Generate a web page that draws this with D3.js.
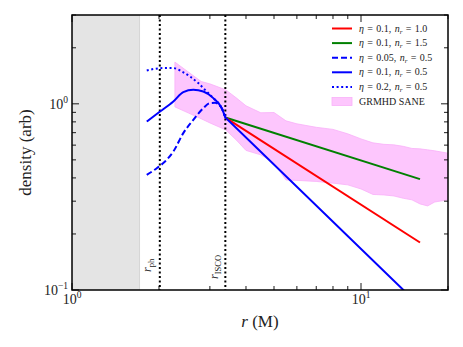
<!DOCTYPE html>
<html>
<head>
<script src="https://cdn.jsdelivr.net/npm/d3@7"></script>
<style>
body { margin: 0; padding: 0; background: #fff; }
text { font-family: "Liberation Serif", "DejaVu Serif", serif; fill: #222; }
</style>
</head>
<body>
<svg></svg>
<script>
// model curves (r in M, density arb)
var rRed = [3.393, 16], rhoRed = [0.844, 0.18];
var rGreen = [3.393, 16], rhoGreen = [0.844, 0.394];
var rBlue = [1.814, 2.016, 2.242, 2.427, 2.629, 2.847, 3.083, 3.296, 3.393, 16];
var rhoBlue = [0.803, 0.909, 1.029, 1.156, 1.189, 1.164, 1.073, 0.948, 0.844, 0.082];
var rDash = [1.814, 1.964, 2.098, 2.242, 2.427, 2.629, 2.847, 3.003, 3.125, 3.296, 3.393];
var rhoDash = [0.415, 0.451, 0.49, 0.554, 0.696, 0.82, 0.948, 1.009, 1.012, 0.948, 0.844];
var rDot = [1.814, 1.911, 2.07, 2.242, 2.397, 2.561, 2.735, 2.925, 3.083, 3.296, 3.393];
var rhoDot = [1.51, 1.537, 1.556, 1.556, 1.492, 1.402, 1.292, 1.164, 1.073, 0.948, 0.844];

// GRMHD SANE band
var rBand = [2.27, 2.5, 2.8, 3.0, 3.4, 3.7, 4.0, 4.5, 5, 5.5, 6, 7, 8, 9, 10, 11, 12, 13, 14, 15, 16, 17, 18, 20];
var bandLo = [0.963, 0.90, 0.831, 0.79, 0.725, 0.64, 0.562, 0.532, 0.482, 0.39, 0.388, 0.383, 0.375, 0.367, 0.349, 0.326, 0.324, 0.32, 0.311, 0.305, 0.29, 0.283, 0.297, 0.305];
var bandHi = [1.675, 1.50, 1.318, 1.28, 1.19, 1.077, 0.976, 0.895, 0.898, 0.81, 0.781, 0.748, 0.729, 0.69, 0.648, 0.617, 0.606, 0.602, 0.591, 0.576, 0.573, 0.566, 0.559, 0.543];

var rHorizon = 1.714, rPh = 2.013, rIsco = 3.393;

var xMajor = [1, 10], yMajor = [0.1, 1];
var xMinor = [2, 3, 4, 5, 6, 7, 8, 9, 20], yMinor = [0.2, 0.3, 0.4, 0.5, 0.6, 0.7, 0.8, 0.9, 2, 3];

var legendItems = [
  { eta: '0.1', n: '1.0', color: '#ff0000', dash: null },
  { eta: '0.1', n: '1.5', color: '#008000', dash: null },
  { eta: '0.05', n: '0.5', color: '#0000ff', dash: '6,3' },
  { eta: '0.1', n: '0.5', color: '#0000ff', dash: null },
  { eta: '0.2', n: '0.5', color: '#0000ff', dash: '2,2.6' }
];

var width = 463, height = 347;
var m = { left: 72, right: 15, top: 15, bottom: 57 };
var svg = d3.select('svg').attr('width', width).attr('height', height);

var x = d3.scaleLog().domain([1, 20]).range([m.left, width - m.right]);
var y = d3.scaleLog().domain([0.1, 3]).range([height - m.bottom, m.top]);
var x0 = x.range()[0], x1 = x.range()[1], y0 = y.range()[0], y1 = y.range()[1];

svg.append('clipPath').attr('id', 'clip').append('rect')
  .attr('x', x0).attr('y', y1).attr('width', x1 - x0).attr('height', y0 - y1);

var plot = svg.append('g').attr('clip-path', 'url(#clip)');

// inside horizon
plot.append('rect')
  .attr('x', x0).attr('y', y1)
  .attr('width', x(rHorizon) - x0).attr('height', y0 - y1)
  .attr('fill', '#e4e4e4').attr('stroke', '#cfcfcf').attr('stroke-width', 0.8);

var band = rBand.map(function(r, i) { return { r: r, lo: bandLo[i], hi: bandHi[i] }; });
plot.append('path')
  .datum(band)
  .attr('d', d3.area()
    .x(function(d) { return x(d.r); })
    .y0(function(d) { return y(d.lo); })
    .y1(function(d) { return y(d.hi); }))
  .attr('fill', '#fdc6fd')
  .attr('stroke', '#f9b0f9')
  .attr('stroke-width', 0.8);

// r_ph and r_ISCO markers
[rPh, rIsco].forEach(function(r) {
  plot.append('line')
    .attr('x1', x(r)).attr('x2', x(r)).attr('y1', y1).attr('y2', y0)
    .attr('stroke', '#000').attr('stroke-width', 2)
    .attr('stroke-dasharray', '2,2.5');
});

var smooth = d3.line()
  .x(function(d) { return x(d[0]); })
  .y(function(d) { return y(d[1]); })
  .curve(d3.curveMonotoneX);
var straight = d3.line()
  .x(function(d) { return x(d[0]); })
  .y(function(d) { return y(d[1]); });

function zip(a, b) { return a.map(function(v, i) { return [v, b[i]]; }); }

// curved inside ISCO, power law (straight) outside
function curvePath(rs, rhos) {
  var pts = zip(rs, rhos);
  var k = rs.indexOf(rIsco);
  if (k < 0) return straight(pts);
  var d = smooth(pts.slice(0, k + 1));
  if (k < pts.length - 1) d += straight(pts.slice(k)).replace(/^M/, 'L');
  return d;
}

var curves = [
  { r: rDash, rho: rhoDash, color: '#0000ff', dash: '6,3' },
  { r: rDot, rho: rhoDot, color: '#0000ff', dash: '2,2.6' },
  { r: rGreen, rho: rhoGreen, color: '#008000', dash: null },
  { r: rRed, rho: rhoRed, color: '#ff0000', dash: null },
  { r: rBlue, rho: rhoBlue, color: '#0000ff', dash: null }
];
curves.forEach(function(c) {
  plot.append('path')
    .attr('d', curvePath(c.r, c.rho))
    .attr('fill', 'none')
    .attr('stroke', c.color)
    .attr('stroke-width', 2)
    .attr('stroke-dasharray', c.dash);
});

// vertical labels
function vlabel(sub, px, py) {
  var t = svg.append('text')
    .attr('transform', 'translate(' + px + ',' + py + ') rotate(-90)')
    .attr('font-size', 12);
  t.append('tspan').attr('font-style', 'italic').text('r');
  t.append('tspan').attr('font-size', 8.5).attr('dy', 3).text(sub);
}
vlabel('ph', x(rPh) - 9, 272);
vlabel('ISCO', x(rIsco) - 7, 279);

// ticks (inward, all four sides)
var tk = svg.append('g').attr('stroke', '#000').attr('stroke-width', 0.9);
function xt(v, len) {
  tk.append('line').attr('x1', x(v)).attr('x2', x(v)).attr('y1', y0).attr('y2', y0 - len);
  tk.append('line').attr('x1', x(v)).attr('x2', x(v)).attr('y1', y1).attr('y2', y1 + len);
}
function yt(v, len) {
  tk.append('line').attr('y1', y(v)).attr('y2', y(v)).attr('x1', x0).attr('x2', x0 + len);
  tk.append('line').attr('y1', y(v)).attr('y2', y(v)).attr('x1', x1).attr('x2', x1 - len);
}
xMajor.forEach(function(v) { xt(v, 7); });
xMinor.forEach(function(v) { xt(v, 4); });
yMajor.forEach(function(v) { yt(v, 7); });
yMinor.forEach(function(v) { yt(v, 4); });

svg.append('rect')
  .attr('x', x0).attr('y', y1).attr('width', x1 - x0).attr('height', y0 - y1)
  .attr('fill', 'none').attr('stroke', '#000').attr('stroke-width', 1.5);

function expLabel(px, py, e, anchor) {
  var t = svg.append('text').attr('x', px).attr('y', py)
    .attr('font-size', 14).attr('text-anchor', anchor);
  t.append('tspan').text('10');
  t.append('tspan').attr('font-size', 9.5).attr('dy', -6).text(e);
}
xMajor.forEach(function(v) {
  expLabel(x(v), y0 + 14, String(Math.round(Math.log10(v))), 'middle');
});
yMajor.forEach(function(v) {
  var e = Math.round(Math.log10(v));
  expLabel(x0 - 4, y(v) + 5, e < 0 ? '\u2212' + (-e) : String(e), 'end');
});

// axis titles
var xl = svg.append('text')
  .attr('x', (x0 + x1) / 2).attr('y', 327)
  .attr('text-anchor', 'middle').attr('font-size', 17);
xl.append('tspan').attr('font-style', 'italic').text('r');
xl.append('tspan').text(' (M)');

svg.append('text')
  .attr('transform', 'translate(31,' + ((y0 + y1) / 2) + ') rotate(-90)')
  .attr('text-anchor', 'middle').attr('font-size', 17)
  .text('density (arb)');

// legend
var sp = '\u2004';
var lg = svg.append('g').attr('transform', 'translate(332,28.5)');
legendItems.forEach(function(d, i) {
  var g = lg.append('g').attr('transform', 'translate(0,' + (i * 14.6) + ')');
  g.append('line').attr('x1', 0).attr('x2', 20).attr('y1', 0).attr('y2', 0)
    .attr('stroke', d.color).attr('stroke-width', 2).attr('stroke-dasharray', d.dash);
  var t = g.append('text').attr('x', 27).attr('y', 3).attr('font-size', 10);
  t.append('tspan').attr('font-style', 'italic').text('\u03b7');
  t.append('tspan').text(sp + '=' + sp + d.eta + ',' + sp);
  t.append('tspan').attr('font-style', 'italic').text('n');
  t.append('tspan').attr('font-size', 7).attr('dy', 2).attr('font-style', 'italic').text('r');
  t.append('tspan').attr('dy', -2).text(sp + '=' + sp + d.n);
});
var gb = lg.append('g').attr('transform', 'translate(0,' + (5 * 14.6) + ')');
gb.append('rect').attr('x', 0).attr('y', -4).attr('width', 20).attr('height', 8)
  .attr('fill', '#fdc6fd').attr('stroke', '#f9b0f9').attr('stroke-width', 0.8);
gb.append('text').attr('x', 27).attr('y', 3).attr('font-size', 10).text('GRMHD SANE');
</script>
</body>
</html>
